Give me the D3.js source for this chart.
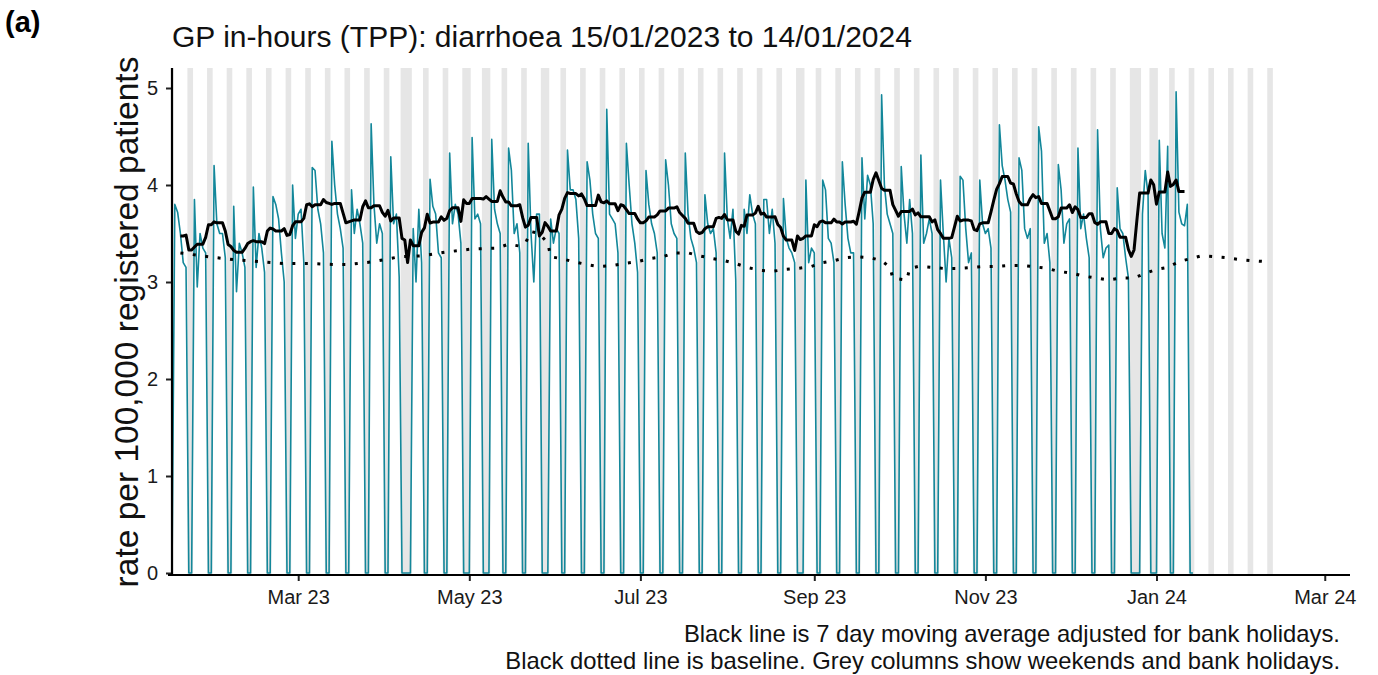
<!DOCTYPE html>
<html><head><meta charset="utf-8">
<script src="https://cdn.jsdelivr.net/npm/d3@7"></script>
<style>
body{margin:0;background:#fff;}
text{font-family:"Liberation Sans", Arial, sans-serif;}
</style>
</head><body>
<svg id="chart" width="1378" height="675"></svg>
<script>
// ---------------- DATA ----------------
const startDate = "2023-01-15";   // first day (Sunday)
// daily rate per 100,000, one row per week: Sun, Mon, Tue, Wed, Thu, Fri, Sat
const rates = [
 0, 3.80, 3.72, 3.50, 3.20, 3.15, 0,
 0, 3.85, 2.95, 3.50, 3.35, 3.30, 0,
 0, 4.20, 3.60, 3.50, 3.50, 3.25, 0,
 0, 3.78, 2.90, 3.40, 3.30, 3.15, 0,
 0, 3.98, 3.15, 3.50, 3.35, 3.10, 0,
 0, 3.88, 3.80, 3.65, 3.30, 3.00, 0,
 0, 4.00, 3.45, 3.70, 3.75, 3.20, 0,
 0, 4.18, 4.15, 3.75, 3.60, 3.30, 0,
 0, 4.45, 4.00, 3.70, 3.55, 3.35, 0,
 0, 3.95, 3.50, 3.75, 3.60, 3.40, 0,
 0, 4.63, 3.80, 3.40, 3.60, 3.50, 0,
 0, 4.29, 3.60, 3.70, 3.05, 0,    0,
 0, 0,    3.55, 3.00, 3.75, 3.20, 0,
 0, 4.06, 3.78, 3.70, 3.30, 3.25, 0,
 0, 4.33, 3.60, 3.80, 3.70, 3.40, 0,
 0, 0,    4.49, 3.65, 3.70, 3.60, 0,
 0, 0,    4.47, 3.75, 3.60, 3.50, 0,
 0, 4.38, 4.15, 3.50, 3.60, 3.30, 0,
 0, 4.43, 3.50, 3.00, 3.70, 3.70, 0,
 0, 0,    3.65, 3.40, 3.55, 3.50, 0,
 0, 4.36, 3.95, 3.95, 3.85, 3.45, 0,
 0, 4.24, 4.05, 3.70, 3.50, 3.45, 0,
 0, 4.78, 3.70, 3.65, 3.60, 3.30, 0,
 0, 4.43, 4.00, 3.60, 3.40, 3.10, 0,
 0, 4.15, 3.80, 3.60, 3.50, 3.30, 0,
 0, 4.26, 4.00, 3.60, 3.50, 3.45, 0,
 0, 4.33, 3.70, 3.45, 3.35, 3.20, 0,
 0, 3.90, 3.60, 3.50, 3.55, 3.30, 0,
 0, 4.33, 3.65, 3.45, 3.75, 3.02, 0,
 0, 3.75, 3.50, 3.90, 3.70, 3.60, 0,
 0, 3.85, 3.85, 3.50, 3.75, 3.40, 0,
 0, 3.86, 3.45, 3.35, 3.30, 3.20, 0,
 0, 0,    4.05, 3.20, 3.35, 3.30, 0,
 0, 4.05, 3.95, 3.45, 3.40, 3.20, 0,
 0, 4.24, 3.80, 3.45, 3.30, 3.30, 0,
 0, 4.28, 3.65, 4.10, 4.00, 3.60, 0,
 0, 4.93, 4.00, 3.70, 3.60, 3.50, 0,
 0, 4.19, 3.70, 3.40, 3.85, 3.50, 0,
 0, 4.31, 3.40, 3.50, 3.65, 3.50, 0,
 0, 4.05, 3.50, 3.00, 3.45, 3.25, 0,
 0, 4.09, 4.05, 3.55, 3.20, 3.30, 0,
 0, 4.05, 3.60, 3.50, 3.55, 3.35, 0,
 0, 4.62, 4.20, 4.05, 3.85, 3.72, 0,
 0, 4.28, 4.15, 3.55, 3.45, 3.55, 0,
 0, 4.60, 4.35, 3.40, 3.50, 3.20, 0,
 0, 4.21, 3.95, 3.40, 3.60, 3.65, 0,
 0, 4.38, 3.55, 3.70, 3.45, 3.25, 0,
 0, 4.57, 3.55, 3.25, 3.35, 3.38, 0,
 0, 3.97, 3.55, 3.50, 3.25, 3.04, 0,
 0, 0,    0,    3.70, 4.15, 3.90, 0,
 0, 0,    4.46, 3.50, 3.35, 4.40, 0,
 0, 4.96, 3.72, 3.60, 3.58, 3.80, 0,
 0
];
const bankHolidays = ["2023-04-07","2023-04-10","2023-05-01","2023-05-08","2023-05-29",
                      "2023-08-28","2023-12-25","2023-12-26","2024-01-01"];
const shadeEnd = "2024-02-11";   // last day of grey weekend columns
// baseline (dotted), read at roughly weekly points
const baselineDates = ["2023-01-18","2023-01-28","2023-02-06","2023-02-15","2023-02-24","2023-03-06",
 "2023-03-14","2023-03-19","2023-03-28","2023-04-06","2023-04-14","2023-04-23","2023-05-02","2023-05-11",
 "2023-05-15","2023-05-19","2023-05-21","2023-05-23","2023-05-26","2023-05-29","2023-05-30","2023-06-03",
 "2023-06-07","2023-06-12","2023-06-16","2023-06-21","2023-06-25","2023-06-30","2023-07-04","2023-07-09",
 "2023-07-13","2023-07-18","2023-07-22","2023-07-27","2023-07-31","2023-08-04","2023-08-08","2023-08-13",
 "2023-08-17","2023-08-22","2023-08-26","2023-08-31","2023-09-04","2023-09-08","2023-09-12","2023-09-16",
 "2023-09-21","2023-09-25","2023-09-28","2023-09-29","2023-10-04","2023-10-05","2023-10-08","2023-10-13",
 "2023-10-17","2023-10-22","2023-10-27","2023-10-31","2023-11-05","2023-11-09","2023-11-14","2023-11-18",
 "2023-11-23","2023-11-27","2023-12-02","2023-12-06","2023-12-11","2023-12-15","2023-12-19","2023-12-24",
 "2023-12-28","2024-01-01","2024-01-05","2024-01-09","2024-01-13","2024-01-17","2024-01-22","2024-01-26",
 "2024-01-31","2024-02-04","2024-02-09"];
const baselineValues = [3.30,3.26,3.23,3.21,3.19,3.19,
 3.18,3.18,3.21,3.26,3.27,3.31,3.34,3.35,
 3.39,3.37,3.40,3.52,3.50,3.40,3.26,3.24,
 3.21,3.18,3.16,3.17,3.19,3.21,3.24,3.26,
 3.30,3.30,3.27,3.24,3.22,3.19,3.15,3.12,
 3.11,3.13,3.14,3.16,3.20,3.22,3.25,3.26,
 3.25,3.22,3.15,3.04,3.02,3.14,3.16,3.15,
 3.14,3.14,3.15,3.16,3.16,3.17,3.17,3.16,
 3.14,3.11,3.09,3.06,3.04,3.02,3.04,3.04,
 3.09,3.13,3.15,3.21,3.24,3.27,3.26,3.25,
 3.23,3.22,3.21];
const xTickDates = ["2023-03-01","2023-05-01","2023-07-01","2023-09-01","2023-11-01","2024-01-01","2024-03-01"];
const xTickLabels = ["Mar 23","May 23","Jul 23","Sep 23","Nov 23","Jan 24","Mar 24"];
const yTicks = [0,1,2,3,4,5];
const yTickLabels = ["0","1","2","3","4","5"];

// ---------------- CHART ----------------
(function(){
const parse = d3.utcParse("%Y-%m-%d");
const DAY = 864e5;
const t0 = parse(startDate);
const daily = rates.map((v,i)=>({date:new Date(+t0 + i*DAY), v}));
const bhSet = new Set(bankHolidays);
const fmt = d3.utcFormat("%Y-%m-%d");
const isOff = d => d.getUTCDay()===0 || d.getUTCDay()===6 || bhSet.has(fmt(d));

const svg = d3.select("#chart");
const pL=172, pR=1350, pT=68, pB=575;
const x = d3.scaleUtc().domain([parse("2023-01-15"), parse("2024-03-10")]).range([pL,pR]);
const y = d3.scaleLinear().domain([0,5]).range([573,88]);

svg.append("defs").append("clipPath").attr("id","panel")
  .append("rect").attr("x",pL).attr("y",pT).attr("width",pR-pL).attr("height",pB-pT);

// grey columns: weekends and bank holidays
const runs=[]; let cur=null;
for(let d=t0; d<=parse(shadeEnd); d=new Date(+d+DAY)){
  if(isOff(d)){ if(cur && +d-cur.end===DAY){cur.end=+d;} else {cur={start:+d,end:+d}; runs.push(cur);} }
}
const g = svg.append("g").attr("clip-path","url(#panel)");
g.selectAll("rect.col").data(runs).join("rect").attr("class","col")
  .attr("x",r=>x(new Date(r.start-DAY/2)))
  .attr("width",r=>x(new Date(r.end+DAY/2))-x(new Date(r.start-DAY/2)))
  .attr("y",pT).attr("height",pB-pT).attr("fill","#e6e6e6");

// teal daily line
g.append("path").datum(daily)
  .attr("d",d3.line().x(d=>x(d.date)).y(d=>y(d.v)))
  .attr("fill","none").attr("stroke","#13879a").attr("stroke-width",1.6).attr("stroke-linejoin","round");

// baseline
const base = baselineDates.map((d,i)=>({date:parse(d), v:baselineValues[i]}));
g.append("path").datum(base)
  .attr("d",d3.line().x(d=>x(d.date)).y(d=>y(d.v)))
  .attr("fill","none").attr("stroke","#000").attr("stroke-width",3).attr("stroke-dasharray","3,9.5");

// 7 day moving average (centred), mean of working days only
const ma=[];
for(let i=3;i<daily.length-3;i++){
  const w=daily.slice(i-3,i+4).filter(d=>!isOff(d.date));
  ma.push({date:daily[i].date, v:d3.mean(w,d=>d.v)});
}
g.append("path").datum(ma)
  .attr("d",d3.line().x(d=>x(d.date)).y(d=>y(d.v)))
  .attr("fill","none").attr("stroke","#000").attr("stroke-width",3).attr("stroke-linejoin","round");

// axes
const xa = svg.append("g").attr("transform",`translate(0,${pB})`)
  .call(d3.axisBottom(x).tickValues(xTickDates.map(parse)).tickFormat((d,i)=>xTickLabels[i]).tickSize(6).tickSizeOuter(0).tickPadding(9));
xa.select(".domain").remove();
xa.selectAll(".tick line").attr("stroke","#222").attr("stroke-width",2);
xa.selectAll(".tick text").attr("font-size",20).attr("fill","#1a1a1a").attr("font-family","Liberation Sans, Arial, sans-serif");

const ya = svg.append("g").attr("transform",`translate(${pL},0)`)
  .call(d3.axisLeft(y).tickValues(yTicks).tickFormat((d,i)=>yTickLabels[i]).tickSize(6).tickSizeOuter(0).tickPadding(8));
ya.select(".domain").remove();
ya.selectAll(".tick line").attr("stroke","#222").attr("stroke-width",2);
ya.selectAll(".tick text").attr("font-size",20).attr("fill","#1a1a1a").attr("font-family","Liberation Sans, Arial, sans-serif");

svg.append("line").attr("x1",pL).attr("x2",pL).attr("y1",pT).attr("y2",pB+1).attr("stroke","#000").attr("stroke-width",2.2);
svg.append("line").attr("x1",pL-4).attr("x2",pR).attr("y1",pB).attr("y2",pB).attr("stroke","#000").attr("stroke-width",2.2);

// texts
svg.append("text").attr("x",5).attr("y",32).attr("font-size",29).attr("font-weight","bold").text("(a)");
svg.append("text").attr("x",172).attr("y",47).attr("font-size",30).attr("fill","#111")
  .text("GP in-hours (TPP): diarrhoea 15/01/2023 to 14/01/2024");
svg.append("text").attr("transform","translate(138,322) rotate(-90)").attr("text-anchor","middle")
  .attr("font-size",33.5).attr("fill","#111").text("rate per 100,000 registered patients");
svg.append("text").attr("x",1340).attr("y",642).attr("text-anchor","end").attr("font-size",23.8).attr("fill","#111")
  .text("Black line is 7 day moving average adjusted for bank holidays.");
svg.append("text").attr("x",1340).attr("y",669).attr("text-anchor","end").attr("font-size",23.8).attr("fill","#111")
  .text("Black dotted line is baseline. Grey columns show weekends and bank holidays.");
})();
</script>
</body></html>
